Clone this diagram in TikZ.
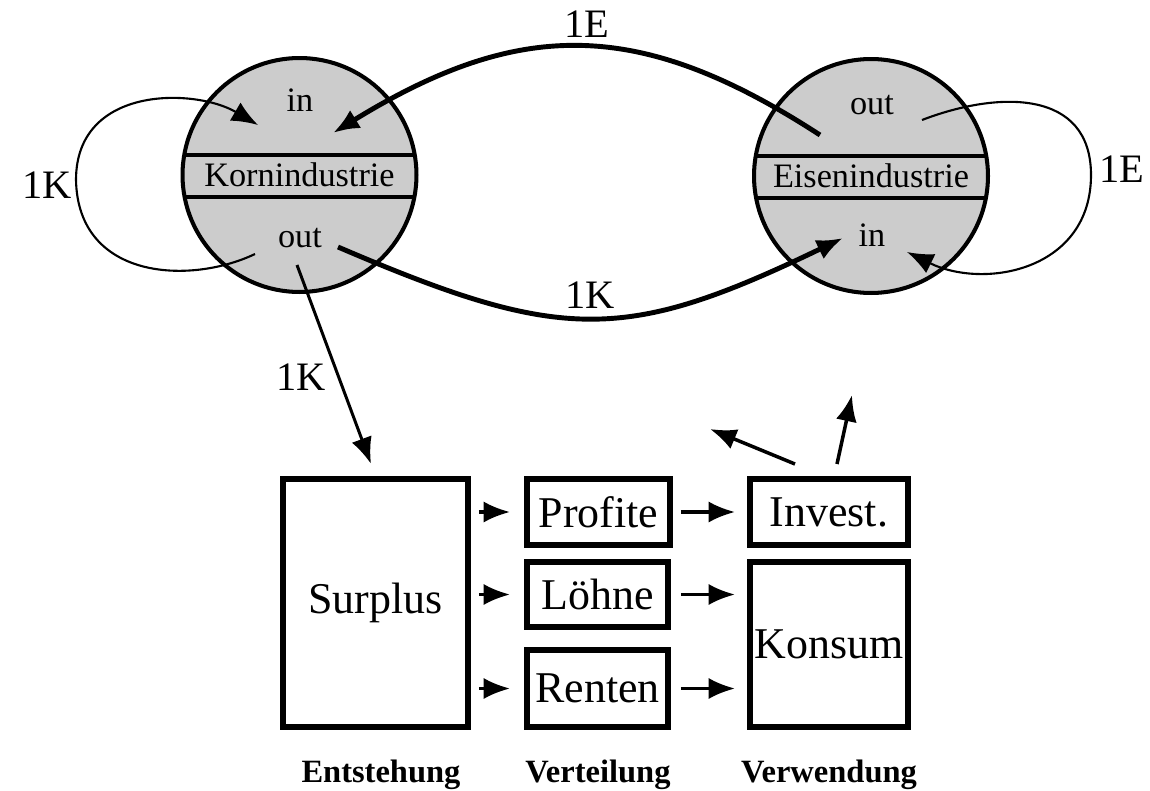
\documentclass[tikz,border=0pt]{standalone}
\usepackage{fontspec}
\setmainfont{Liberation Serif}
\usetikzlibrary{arrows.meta}
\definecolor{ringfill}{gray}{0.8}
\tikzset{
  >={Latex[length=15pt,width=12pt]},
  industry/.style={circle, draw, line width=2.3pt, fill=ringfill, minimum size=4.68cm, inner sep=0pt,
    font=\fontsize{19.5}{22}\selectfont,
    path picture={
      \draw[line width=2.3pt] ([yshift=0.4cm]path picture bounding box.west) -- ([yshift=0.4cm]path picture bounding box.east)
        ([yshift=-0.44cm]path picture bounding box.west) -- ([yshift=-0.44cm]path picture bounding box.east);}},
  port/.style={font=\fontsize{19.5}{22}\selectfont},
  flow/.style={font=\fontsize{23}{26}\selectfont},
  box/.style={draw, line width=3.4pt, inner sep=0pt, font=\fontsize{25}{28}\selectfont},
  stage/.style={anchor=base, font=\bfseries\fontsize{18.5}{21}\selectfont},
}
\begin{document}
\begin{tikzpicture}[x=0.02cm, y=-0.02cm]
  \useasboundingbox (0,0) rectangle (1150,791);
  \node[industry] (korn) at (299.5,175) {Kornindustrie};
  \node[industry] (eisen) at (871,176) {Eisenindustrie};
  \node[port] (korn-inlbl) at (300,100) {in};
  \node[port] (korn-outlbl) at (300,238) {out};
  \node[port] (eisen-outlbl) at (872,105) {out};
  \node[port] (eisen-inlbl) at (872,235) {in};
  \coordinate (korn-in) at (333,133);
  \coordinate (korn-out) at (338,247);
  \coordinate (korn-self-in) at (258,125);
  \coordinate (korn-self-out) at (255,254);
  \coordinate (korn-down) at (297,265);
  \coordinate (eisen-out) at (820,135);
  \coordinate (eisen-in) at (843,238);
  \coordinate (eisen-self-out) at (922,120);
  \coordinate (eisen-self-in) at (907,252);
  \draw[->, line width=2.8pt] (eisen-out) .. controls (640,18) and (520,18) .. (korn-in);
  \draw[->, line width=2.8pt] (korn-out) .. controls (562,343) and (625,343) .. (eisen-in);
  \draw[->, line width=1.2pt] (korn-self-out) .. controls (190,285) and (78,280) .. (76,180)
    .. controls (76,85) and (195,88) .. (korn-self-in);
  \draw[->, line width=1.2pt] (eisen-self-out) .. controls (1000,90) and (1091,90) .. (1091,175)
    .. controls (1091,270) and (985,290) .. (eisen-self-in);
  \node[flow] (e-top) at (587,24) {1E};
  \node[flow] (k-bottom) at (590,295) {1K};
  \node[flow] (k-left) at (47,185) {1K};
  \node[flow] (e-right) at (1122,169) {1E};
  \node[flow] (k-down) at (301,377) {1K};
  \node[box, minimum width=3.7cm, minimum height=4.96cm] (surplus) at (375.5,603) {Surplus};
  \node[box, minimum width=2.86cm, minimum height=1.32cm] (profite) at (598.5,512) {Profite};
  \node[box, minimum width=2.82cm, minimum height=1.3cm] (loehne) at (597.5,594.5) {Löhne};
  \node[box, minimum width=2.82cm, minimum height=1.54cm] (renten) at (597.5,688.5) {Renten};
  \node[box, minimum width=3.16cm, minimum height=1.32cm] (invest) at (829,512) {Invest.};
  \node[box, minimum width=3.16cm, minimum height=3.3cm] (konsum) at (829,644.5) {Konsum};
  \coordinate (up-left) at (710,429);
  \coordinate (up-right) at (852,395);
  \draw[->, line width=1.7pt, shorten >=0.26cm] (korn-down) -- (surplus.north);
  \draw[->, line width=1.8pt, shorten <=0.16cm, shorten >=0.28cm] (surplus.east |- profite.west) -- (profite.west);
  \draw[->, line width=1.8pt, shorten <=0.16cm, shorten >=0.28cm] (surplus.east |- loehne.west) -- (loehne.west);
  \draw[->, line width=1.8pt, shorten <=0.16cm, shorten >=0.28cm] (surplus.east |- renten.west) -- (renten.west);
  \draw[->, line width=1.8pt, shorten <=0.16cm, shorten >=0.24cm] (profite.east) -- (invest.west);
  \draw[->, line width=1.8pt, shorten <=0.2cm, shorten >=0.24cm] (loehne.east) -- (loehne.east -| konsum.west);
  \draw[->, line width=1.8pt, shorten <=0.2cm, shorten >=0.24cm] (renten.east) -- (renten.east -| konsum.west);
  \draw[->, line width=2pt] ([shift={(-34,-12)}]invest.north) -- (up-left);
  \draw[->, line width=2pt] ([shift={(8,-12)}]invest.north) -- (up-right);
  \node[stage] (entstehung) at (381,782) {Entstehung};
  \node[stage] (verteilung) at (598,782) {Verteilung};
  \node[stage] (verwendung) at (829,782) {Verwendung};
\end{tikzpicture}
\end{document}
